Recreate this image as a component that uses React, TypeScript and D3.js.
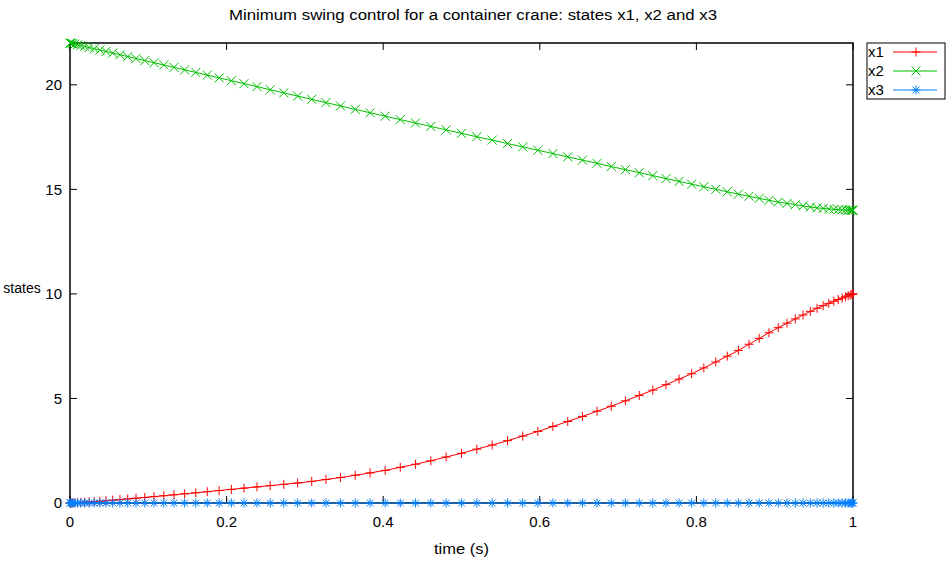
import React from "react";
import * as d3 from "d3";

const TIME = [
  0, 0.0004, 0.0015, 0.0035, 0.0062, 0.0096, 0.0138, 0.0188, 0.0245, 0.0309,
  0.0381, 0.0459, 0.0545, 0.0638, 0.0737, 0.0843, 0.0955, 0.1073, 0.1198, 0.1328,
  0.1464, 0.1606, 0.1753, 0.1905, 0.2061, 0.2222, 0.2388, 0.2557, 0.273, 0.2907,
  0.3087, 0.3269, 0.3455, 0.3643, 0.3833, 0.4025, 0.4218, 0.4412, 0.4608, 0.4804,
  0.5, 0.5196, 0.5392, 0.5588, 0.5782, 0.5975, 0.6167, 0.6357, 0.6545, 0.6731,
  0.6913, 0.7093, 0.727, 0.7443, 0.7612, 0.7778, 0.7939, 0.8095, 0.8247, 0.8394,
  0.8536, 0.8672, 0.8802, 0.8927, 0.9045, 0.9157, 0.9263, 0.9362, 0.9455, 0.9541,
  0.9619, 0.9691, 0.9755, 0.9812, 0.9862, 0.9904, 0.9938, 0.9965, 0.9985, 0.9996, 1,
];

const X1 = [
  0, 0.001, 0.003, 0.007, 0.012, 0.019, 0.028, 0.038, 0.052, 0.069,
  0.088, 0.109, 0.134, 0.164, 0.196, 0.23, 0.266, 0.305, 0.347, 0.392,
  0.438, 0.488, 0.541, 0.596, 0.652, 0.71, 0.77, 0.831, 0.893, 0.957,
  1.034, 1.125, 1.218, 1.326, 1.44, 1.559, 1.706, 1.853, 2.019, 2.2,
  2.38, 2.576, 2.772, 2.98, 3.2, 3.42, 3.66, 3.9, 4.14, 4.39,
  4.63, 4.886, 5.144, 5.397, 5.659, 5.925, 6.182, 6.459, 6.744, 7.021,
  7.298, 7.592, 7.872, 8.142, 8.386, 8.601, 8.804, 8.991, 9.165, 9.314,
  9.436, 9.548, 9.647, 9.729, 9.801, 9.862, 9.911, 9.95, 9.978, 9.994, 10,
];

const X2 = [
  22, 21.996, 21.987, 21.969, 21.945, 21.916, 21.879, 21.835, 21.784, 21.728,
  21.665, 21.596, 21.52, 21.439, 21.351, 21.258, 21.16, 21.056, 20.948, 20.835,
  20.716, 20.593, 20.465, 20.333, 20.197, 20.057, 19.912, 19.765, 19.615, 19.461,
  19.305, 19.149, 18.989, 18.827, 18.664, 18.499, 18.337, 18.174, 18.009, 17.845,
  17.68, 17.517, 17.355, 17.192, 17.031, 16.871, 16.711, 16.554, 16.398, 16.243,
  16.092, 15.944, 15.799, 15.657, 15.518, 15.382, 15.25, 15.124, 15.002, 14.885,
  14.773, 14.669, 14.57, 14.475, 14.394, 14.329, 14.268, 14.21, 14.156, 14.116,
  14.09, 14.066, 14.045, 14.028, 14.021, 14.014, 14.009, 14.005, 14.002, 14.001, 14,
];

const X3 = [
  0, 0, 0, 0, 0, 0, 0, 0, 0, 0,
  0, 0, 0, 0, 0, 0, 0, 0, 0, 0,
  0, 0, 0, 0, 0, 0, 0, 0, 0, 0,
  0, 0, 0, 0, 0, 0, 0, 0, 0, 0,
  0, 0, 0, 0, 0, 0, 0, 0, 0, 0,
  0, 0, 0, 0, 0, 0, 0, 0, 0, 0,
  0, 0, 0, 0, 0, 0, 0, 0, 0, 0,
  0, 0, 0, 0, 0, 0, 0, 0, 0, 0, 0,
];

const X_TICKS = [0, 0.2, 0.4, 0.6, 0.8, 1];
const X_TICK_LABELS = ["0", "0.2", "0.4", "0.6", "0.8", "1"];
const Y_TICKS = [0, 5, 10, 15, 20];
const Y_TICK_LABELS = ["0", "5", "10", "15", "20"];

const SERIES_NAMES = ["x1", "x2", "x3"];
const SERIES_VALUES = [X1, X2, X3];
const SERIES_COLORS = ["#ff0000", "#00c000", "#0080ff"];
const SERIES_MARKERS = ["plus", "cross", "star"];

const TITLE = "Minimum swing control for a container crane: states x1, x2 and x3";
const X_LABEL = "time (s)";
const Y_LABEL = "states";

const W = 946;
const H = 565;
const L = 70;
const R = 853;
const T = 43;
const B = 503;
const FONT = "'Liberation Sans', Arial, Helvetica, sans-serif";

function markerPath(kind: string, cx: number, cy: number, s: number): string {
  const p = d3.path();
  const d = s * 0.75;
  if (kind === "plus" || kind === "star") {
    p.moveTo(cx - s, cy);
    p.lineTo(cx + s, cy);
    p.moveTo(cx, cy - s);
    p.lineTo(cx, cy + s);
  }
  if (kind === "cross") {
    p.moveTo(cx - s, cy - s);
    p.lineTo(cx + s, cy + s);
    p.moveTo(cx - s, cy + s);
    p.lineTo(cx + s, cy - s);
  }
  if (kind === "star") {
    p.moveTo(cx - d, cy - d);
    p.lineTo(cx + d, cy + d);
    p.moveTo(cx - d, cy + d);
    p.lineTo(cx + d, cy - d);
  }
  return p.toString();
}

export default function App() {
  const x = d3.scaleLinear().domain([0, 1]).range([L, R]);
  const y = d3.scaleLinear().domain([0, 22]).range([B, T]);
  const line = d3
    .line<number>()
    .x((_, i) => x(TIME[i]))
    .y((v) => y(v));
  const tickLen = 7;

  const legendX = 867;
  const legendY = 43;
  const legendW = 78;
  const legendH = 56;
  const rowY = [52, 71, 90];

  return (
    <svg
      width={W}
      height={H}
      style={{ position: "absolute", left: 0, top: 0, background: "#ffffff" }}
      fontFamily={FONT}
    >
      <rect x={0} y={0} width={W} height={H} fill="#ffffff" />
      <text
        x={229}
        y={20}
        fontSize={14}
        fill="#000"
        textLength={488}
        lengthAdjust="spacingAndGlyphs"
      >
        {TITLE}
      </text>

      {/* ticks */}
      {Y_TICKS.map((t, i) => (
        <g key={"yt" + i}>
          <line x1={L} x2={L + tickLen} y1={y(t)} y2={y(t)} stroke="#000" strokeWidth={1} />
          <line x1={R} x2={R - tickLen} y1={y(t)} y2={y(t)} stroke="#000" strokeWidth={1} />
          <text x={62} y={y(t)} dy="0.36em" textAnchor="end" fontSize={15} fill="#000">
            {Y_TICK_LABELS[i]}
          </text>
        </g>
      ))}
      {X_TICKS.map((t, i) => (
        <g key={"xt" + i}>
          <line x1={x(t)} x2={x(t)} y1={B} y2={B - tickLen} stroke="#000" strokeWidth={1} />
          <line x1={x(t)} x2={x(t)} y1={T} y2={T + tickLen} stroke="#000" strokeWidth={1} />
          <text x={x(t)} y={527} textAnchor="middle" fontSize={15} fill="#000">
            {X_TICK_LABELS[i]}
          </text>
        </g>
      ))}

      <rect x={L} y={T} width={R - L} height={B - T} fill="none" stroke="#000" strokeWidth={1.5} />

      {/* series */}
      {SERIES_VALUES.map((vals, si) => (
        <g key={"s" + si}>
          <path d={line(vals) || ""} fill="none" stroke={SERIES_COLORS[si]} strokeWidth={1} />
          <path
            d={vals.map((v, i) => markerPath(SERIES_MARKERS[si], x(TIME[i]), y(v), 4.5)).join("")}
            fill="none"
            stroke={SERIES_COLORS[si]}
            strokeWidth={1}
          />
        </g>
      ))}

      <text
        x={434}
        y={554}
        fontSize={14}
        fill="#000"
        textLength={55}
        lengthAdjust="spacingAndGlyphs"
      >
        {X_LABEL}
      </text>
      <text x={22} y={293} textAnchor="middle" fontSize={14} fill="#000">
        {Y_LABEL}
      </text>

      {/* legend */}
      <rect x={legendX} y={legendY} width={legendW} height={legendH} fill="#fff" stroke="#000" strokeWidth={1} />
      {SERIES_NAMES.map((n, i) => (
        <g key={"lg" + i}>
          <text x={868} y={rowY[i]} dy="0.36em" fontSize={15} fill="#000">
            {n}
          </text>
          <line x1={893} x2={937} y1={rowY[i]} y2={rowY[i]} stroke={SERIES_COLORS[i]} strokeWidth={1} />
          <path d={markerPath(SERIES_MARKERS[i], 916, rowY[i], 4.5)} fill="none" stroke={SERIES_COLORS[i]} strokeWidth={1} />
        </g>
      ))}
    </svg>
  );
}
